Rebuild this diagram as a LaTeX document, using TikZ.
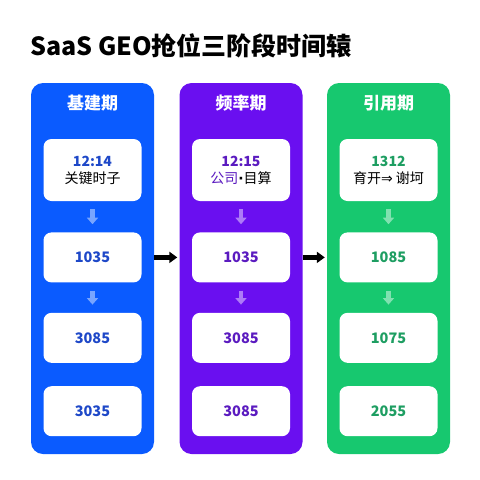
\documentclass[tikz,border=0pt]{standalone}
\usepackage{fontspec}
\setmainfont{Noto Sans CJK SC}
\newfontfamily\symfont{DejaVu Sans}
\usetikzlibrary{positioning, arrows.meta}

\definecolor{colB}{HTML}{0A5BFF}
\definecolor{colP}{HTML}{6A0FF0}
\definecolor{colG}{HTML}{17C86F}
\definecolor{txtB}{HTML}{1E48C8}
\definecolor{txtP}{HTML}{5B1BC0}
\definecolor{txtG}{HTML}{1E9E62}

\begin{document}
\begin{tikzpicture}[
  x=1pt, y=1pt,
  >=Stealth,
  % --- node styles ---
  col/.style={
    rounded corners=12pt, inner sep=0pt,
    minimum width=123pt, minimum height=371pt
  },
  head/.style={
    text=white, font=\fontsize{17}{20}\selectfont\bfseries
  },
  card/.style={
    fill=white, rounded corners=8pt, inner sep=0pt,
    minimum width=98pt, minimum height=50pt, align=center,
    font=\fontsize{14}{17}\selectfont
  },
  num/.style={
    card, font=\fontsize{14.5}{17}\selectfont\bfseries
  },
  sarr/.style={
    -{Triangle[width=11pt, length=6.5pt]}, line width=4.5pt,
    shorten <=8pt, shorten >=8pt
  },
  barr/.style={
    -{Triangle[width=11pt, length=8pt]}, line width=4.5pt,
    black, shorten >=2pt
  },
]
\useasboundingbox (0,0) rectangle (480,-480);

% ══════════════════════════════════════════════
% TITLE
% ══════════════════════════════════════════════

\node[anchor=west, inner sep=0pt, font=\fontsize{25}{30}\selectfont\bfseries]
  (title) at (30,-46) {SaaS GEO抢位三阶段时间辕};

% ══════════════════════════════════════════════
% COLUMNS
% ══════════════════════════════════════════════

\node[col, fill=colB] (jj) at (92.5,-268.5) {};
\node[col, fill=colP] (pl) at (241,-268.5) {};
\node[col, fill=colG] (yy) at (388.5,-268.5) {};

\node[head] at ([yshift=-20pt]jj.north) {基建期};
\node[head] at ([yshift=-20pt]pl.north) {频率期};
\node[head] at ([yshift=-20pt]yy.north) {引用期};

% --- 基建期 ---
\node[card, minimum height=62pt, below=56pt of jj.north] (jj1) {
  {\bfseries\color{txtB}12:14}\\ 关键时子};
\node[num, text=txtB, below=31pt of jj1] (jj2) {1035};
\node[num, text=txtB, below=30pt of jj2] (jj3) {3085};
\node[num, text=txtB, below=23pt of jj3] (jj4) {3035};

% --- 频率期 ---
\node[card, minimum height=62pt, below=56pt of pl.north] (pl1) {
  {\bfseries\color{txtP}12:15}\\ {\color{txtP}公司}{\symfont\bfseries·}目算};
\node[num, text=txtP, below=31pt of pl1] (pl2) {1035};
\node[num, text=txtP, below=30pt of pl2] (pl3) {3085};
\node[num, text=txtP, below=23pt of pl3] (pl4) {3085};

% --- 引用期 ---
\node[card, minimum height=62pt, below=56pt of yy.north] (yy1) {
  {\bfseries\color{txtG}1312}\\ 育开{\symfont ⇒} 谢坷};
\node[num, text=txtG, below=31pt of yy1] (yy2) {1085};
\node[num, text=txtG, below=30pt of yy2] (yy3) {1075};
\node[num, text=txtG, below=23pt of yy3] (yy4) {2055};

% ══════════════════════════════════════════════
% ARROWS
% ══════════════════════════════════════════════

\draw[sarr, colB!55!white] (jj1) -- (jj2);
\draw[sarr, colB!55!white] (jj2) -- (jj3);
\draw[sarr, colP!55!white] (pl1) -- (pl2);
\draw[sarr, colP!55!white] (pl2) -- (pl3);
\draw[sarr, colG!55!white] (yy1) -- (yy2);
\draw[sarr, colG!55!white] (yy2) -- (yy3);

\draw[barr] (jj.east |- jj2) -- (pl.west |- pl2);
\draw[barr] (pl.east |- pl2) -- (yy.west |- yy2);

\end{tikzpicture}
\end{document}
